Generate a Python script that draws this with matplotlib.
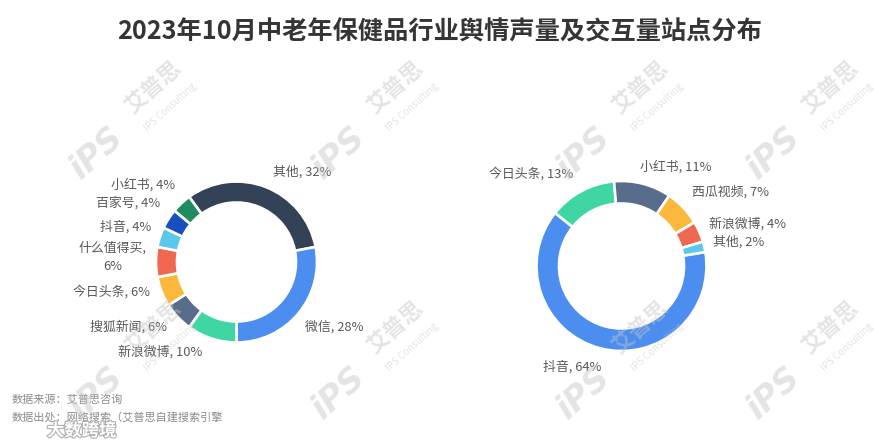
import matplotlib
matplotlib.use('Agg')
import matplotlib.pyplot as plt
import matplotlib.patheffects as pe

plt.rcParams['font.family'] = ['Noto Sans CJK SC', 'DejaVu Sans']

# ---------------- data ----------------
title = '2023年10月中老年保健品行业舆情声量及交互量站点分布'

left_sites = ['其他', '微信', '新浪微博', '搜狐新闻', '今日头条', '什么值得买', '抖音', '百家号', '小红书']
left_share = [32, 28, 10, 6, 6, 6, 4, 4, 4]

right_sites = ['抖音', '今日头条', '小红书', '西瓜视频', '新浪微博', '其他']
right_share = [64, 13, 11, 7, 4, 2]

source_lines = ['数据来源：艾普思咨询', '数据出处：网络搜索（艾普思自建搜索引擎']
watermark_texts = ['iPS', '艾普思', 'IPS Consulting']
corner_mark = '大数跨境'

# ---------------- styles / layout ----------------
left_colors = ['#344258', '#4b8ef0', '#40d6a4', '#586c8c', '#fcb83a', '#ef6950', '#5cc7ec', '#1a4dbe', '#1f8b61']
right_colors = ['#4b8ef0', '#40d6a4', '#586c8c', '#fcb83a', '#ef6950', '#5cc7ec']

W, H = 875, 446
def Y(py):
    return H - py

left_center, left_r, left_w, left_start = (236.5, Y(262)), 80.5, 21.0, 126
right_center, right_r, right_w, right_start = (621.5, Y(266)), 85.0, 22.5, 9.5

# label anchor positions (pixel coords, y from top) and alignment
left_label_pos = [(273, 172, 'left'), (305, 327, 'left'), (118, 352, 'left'),
                  (167, 327, 'right'), (150, 292, 'right'), (112.5, 257, 'center'),
                  (151, 227, 'right'), (160, 203, 'right'), (175, 185, 'right')]
right_label_pos = [(543, 367, 'left'), (573, 174, 'right'), (640, 167, 'left'),
                   (692, 192, 'left'), (709, 224, 'left'), (713, 242, 'left')]

label_color = '#595959'
label_size = 9.3

fig = plt.figure(figsize=(W / 100, H / 100), dpi=100)
ax = fig.add_axes([0, 0, 1, 1])

def donut(values, colors, center, r, w, start):
    ax.pie(values, colors=colors, center=center, radius=r, startangle=start,
           counterclock=False, frame=True,
           wedgeprops=dict(width=w, edgecolor='white', linewidth=1.9))

def labels(names, values, positions):
    for name, v, (x, y, ha) in zip(names, values, positions):
        if len(name) >= 5:
            s = f'{name},\n{v}%'
        else:
            s = f'{name}, {v}%'
        ax.text(x, Y(y), s, ha=ha, va='center', fontsize=label_size,
                color=label_color, linespacing=1.55, multialignment='center')

donut(left_share, left_colors, left_center, left_r, left_w, left_start)
donut(right_share, right_colors, right_center, right_r, right_w, right_start)
labels(left_sites, left_share, left_label_pos)
labels(right_sites, right_share, right_label_pos)

ax.set_xlim(0, W)
ax.set_ylim(0, H)
ax.set_aspect('equal')
ax.axis('off')

# title
ax.text(439.5, Y(32), title, ha='center', va='center', fontsize=18.2,
        fontweight='bold', color='#353535')

# source notes
for i, line in enumerate(source_lines):
    ax.text(12, Y(399 + 18 * i), line, ha='left', va='center', fontsize=8,
            color='#8c8c8c')

# watermarks
wm_color = '#c4c4c4'
for cx in [153, 395, 640, 830]:
    for cy in [87, 327]:
        ax.text(cx - 56, Y(cy + 66), watermark_texts[0], rotation=42,
                ha='center', va='center', fontsize=24, fontweight='bold',
                fontstyle='italic', family=['DejaVu Sans'], color=wm_color,
                alpha=0.45, zorder=10)
        ax.text(cx, Y(cy), watermark_texts[1], rotation=42, ha='center',
                va='center', fontsize=16, fontweight='bold', color=wm_color,
                alpha=0.45, zorder=10)
        ax.text(cx + 17, Y(cy + 20), watermark_texts[2], rotation=42,
                ha='center', va='center', fontsize=7, color=wm_color,
                alpha=0.45, zorder=10)

ax.text(47, Y(431), corner_mark, ha='left', va='center', fontsize=12.5,
        fontweight='bold', color='white', zorder=11,
        path_effects=[pe.withStroke(linewidth=1.6, foreground='#b0b0b0')])

fig.savefig('out.png', dpi=100, facecolor='white')
